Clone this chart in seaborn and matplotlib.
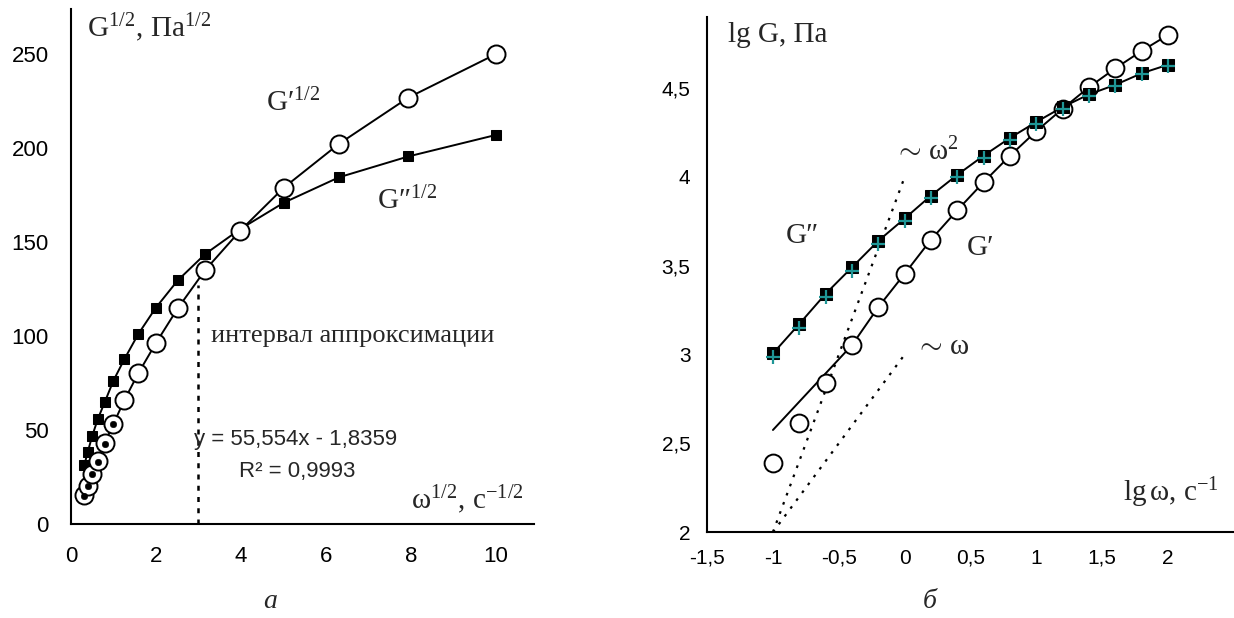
import numpy as np
import pandas as pd
import matplotlib
matplotlib.use("Agg")
import matplotlib.pyplot as plt
import seaborn as sns
from matplotlib.ticker import FuncFormatter

# ---------------- data ----------------
# panel a: sqrt(omega) vs sqrt(G)
w_sqrt = [0.316, 0.398, 0.501, 0.631, 0.794, 1.0, 1.259, 1.585, 1.995, 2.512,
          3.162, 3.981, 5.012, 6.310, 7.943, 10.0]
gp_sqrt = [15.2, 20.5, 26.7, 33.3, 43.0, 53.3, 66.0, 80.2, 96.1, 114.7,
           135.2, 156.0, 179.0, 202.3, 226.9, 250.0]
gpp_sqrt = [31.5, 38.6, 46.9, 55.8, 64.8, 76.3, 87.8, 101.1, 115.0, 129.6,
            143.7, 156.9, 171.0, 184.5, 195.6, 207.0]
fit_w_sqrt = [0.316, 0.398, 0.501, 0.631, 0.794, 1.0]
fit_g_sqrt = [15.0, 20.2, 26.4, 33.0, 42.7, 53.0]
interval_x = [3.0, 3.0]
interval_y = [0, 127]

# panel b: lg omega vs lg G
lg_w = [-1.0, -0.8, -0.6, -0.4, -0.2, 0.0, 0.2, 0.4, 0.6, 0.8,
        1.0, 1.2, 1.4, 1.6, 1.8, 2.0]
lg_gp = [2.387, 2.614, 2.839, 3.053, 3.267, 3.455, 3.647, 3.813, 3.971, 4.120,
         4.258, 4.385, 4.506, 4.612, 4.710, 4.800]
lg_gpp = [3.006, 3.172, 3.342, 3.491, 3.640, 3.766, 3.895, 4.012, 4.120, 4.220,
          4.310, 4.394, 4.465, 4.519, 4.584, 4.632]
lg_gpp2 = [2.984, 3.152, 3.322, 3.473, 3.623, 3.750, 3.880, 3.998, 4.107, 4.208,
           4.299, 4.384, 4.456, 4.511, 4.577, 4.626]
gp_fit_x = [-1.0, -0.4]
gp_fit_y = [2.575, 3.053]
slope2_x = [-1.0, 0.0]
slope2_y = [2.0, 4.0]
slope1_x = [-1.0, 0.0]
slope1_y = [2.0, 3.0]

xticks_a = [0, 2, 4, 6, 8, 10]
yticks_a = [0, 50, 100, 150, 200, 250]
xticks_b = [-1.5, -1, -0.5, 0, 0.5, 1, 1.5, 2]
yticks_b = [2, 2.5, 3, 3.5, 4, 4.5]

# ---------------- style ----------------
sns.set_style("white")
plt.rcParams['font.family'] = ['Liberation Sans', 'DejaVu Sans']
plt.rcParams['mathtext.fontset'] = 'custom'
plt.rcParams['mathtext.rm'] = 'Liberation Serif'
plt.rcParams['mathtext.it'] = 'Liberation Serif:italic'
plt.rcParams['mathtext.bf'] = 'Liberation Serif:bold'

SERIF = ['Liberation Serif', 'DejaVu Serif']

fig = plt.figure(figsize=(12.34, 6.18), dpi=100)
axa = fig.add_axes([0.0575, 0.152, 0.3752, 0.8333])
axb = fig.add_axes([0.573, 0.139, 0.427, 0.8333])

def comma(v, pos):
    s = ('%g' % v).replace('.', ',')
    return s

for ax in (axa, axb):
    ax.set_facecolor('white')
    for side in ('top', 'right'):
        ax.spines[side].set_visible(False)
    for side in ('left', 'bottom'):
        ax.spines[side].set_color('black')
        ax.spines[side].set_linewidth(1.5)
    ax.xaxis.set_major_formatter(FuncFormatter(comma))
    ax.yaxis.set_major_formatter(FuncFormatter(comma))

# ---------------- panel a ----------------
sns.lineplot(x=interval_x, y=interval_y, ax=axa, color='black', lw=1.8,
             linestyle=(0, (2, 2.5)), estimator=None, sort=False)
sns.lineplot(x=w_sqrt, y=gpp_sqrt, ax=axa, color='black', lw=1.4, sort=False,
             estimator=None, marker='s', markersize=7.5,
             markerfacecolor='black', markeredgecolor='black')
sns.lineplot(x=w_sqrt, y=gp_sqrt, ax=axa, color='black', lw=1.4, sort=False,
             estimator=None, marker='o', markersize=13,
             markerfacecolor='white', markeredgecolor='black',
             markeredgewidth=1.4)
sns.scatterplot(x=fit_w_sqrt, y=fit_g_sqrt, ax=axa, color='black', s=22,
                edgecolor='black', zorder=5)

axa.set_xlim(0, 10.9)
axa.set_ylim(0, 274)
axa.set_xticks(xticks_a)
axa.set_yticks(yticks_a)
axa.tick_params(direction='in', length=5, width=1.3, colors='black',
                labelsize=16, pad=16)
axa.set_xlabel('')
axa.set_ylabel('')

axa.text(0.38, 264, r'$\mathrm{G^{1/2},\,Па^{1/2}}$', fontsize=21,
         ha='left', va='center')
axa.text(4.6, 224, r'$\mathrm{G′^{1/2}}$', fontsize=21, ha='left', va='center')
axa.text(7.2, 172, r'$\mathrm{G″^{1/2}}$', fontsize=21, ha='left', va='center')
axa.text(3.3, 100, 'интервал аппроксимации', family=SERIF, fontsize=19,
         ha='left', va='center')
axa.text(2.9, 45, 'y = 55,554x - 1,8359', fontsize=16, ha='left', va='center')
axa.text(3.95, 28, 'R² = 0,9993', fontsize=16, ha='left', va='center')
axa.text(8.0, 13, r'$\mathrm{ω^{1/2},\,c^{-1/2}}$', fontsize=21,
         ha='left', va='center')

# ---------------- panel b ----------------
sns.lineplot(x=slope2_x, y=slope2_y, ax=axb, color='black', lw=1.6,
             linestyle=(0, (1.2, 3.2)), estimator=None, sort=False)
sns.lineplot(x=slope1_x, y=slope1_y, ax=axb, color='black', lw=1.6,
             linestyle=(0, (1.2, 3.2)), estimator=None, sort=False)
sns.lineplot(x=gp_fit_x, y=gp_fit_y, ax=axb, color='black', lw=1.4,
             estimator=None, sort=False)
sns.lineplot(x=lg_w[3:], y=lg_gp[3:], ax=axb, color='black', lw=1.4,
             estimator=None, sort=False)
sns.scatterplot(x=lg_w, y=lg_gp, ax=axb, marker='o', s=165, color='white',
                edgecolor='black', linewidth=1.4, zorder=4)
sns.lineplot(x=lg_w, y=lg_gpp, ax=axb, color='black', lw=1.4, sort=False,
             estimator=None, marker='s', markersize=8.5,
             markerfacecolor='black', markeredgecolor='black', zorder=5)
sns.scatterplot(x=lg_w, y=lg_gpp2, ax=axb, marker='+', s=110, color='#1f9696',
                linewidth=1.6, zorder=6)

axb.set_xlim(-1.5, 2.5)
axb.set_ylim(2, 4.9)
axb.set_xticks(xticks_b)
axb.set_yticks(yticks_b)
axb.tick_params(direction='in', length=5, width=1.3, colors='black',
                labelsize=15, pad=12)
axb.set_xlabel('')
axb.set_ylabel('')

axb.text(-1.34, 4.80, 'lg G, Па', family=SERIF, fontsize=21, ha='left',
         va='center')
axb.text(-0.08, 4.14, r'$\mathrm{\sim\,ω^{2}}$', fontsize=21, ha='left',
         va='center')
axb.text(-0.9, 3.67, 'G″', family=SERIF, fontsize=21, ha='left', va='center')
axb.text(0.47, 3.60, 'G′', family=SERIF, fontsize=21, ha='left', va='center')
axb.text(0.08, 3.05, r'$\mathrm{\sim\,ω}$', fontsize=21, ha='left',
         va='center')
axb.text(1.66, 2.22, r'$\mathrm{lg\,ω,\,c^{-1}}$', fontsize=21, ha='left',
         va='center')

fig.text(270 / 1234, 1 - 602 / 618, 'а', family=SERIF, style='italic',
         fontsize=20, ha='center', va='center')
fig.text(930 / 1234, 1 - 602 / 618, 'б', family=SERIF, style='italic',
         fontsize=20, ha='center', va='center')

fig.savefig('out.png', dpi=100, facecolor='white')
